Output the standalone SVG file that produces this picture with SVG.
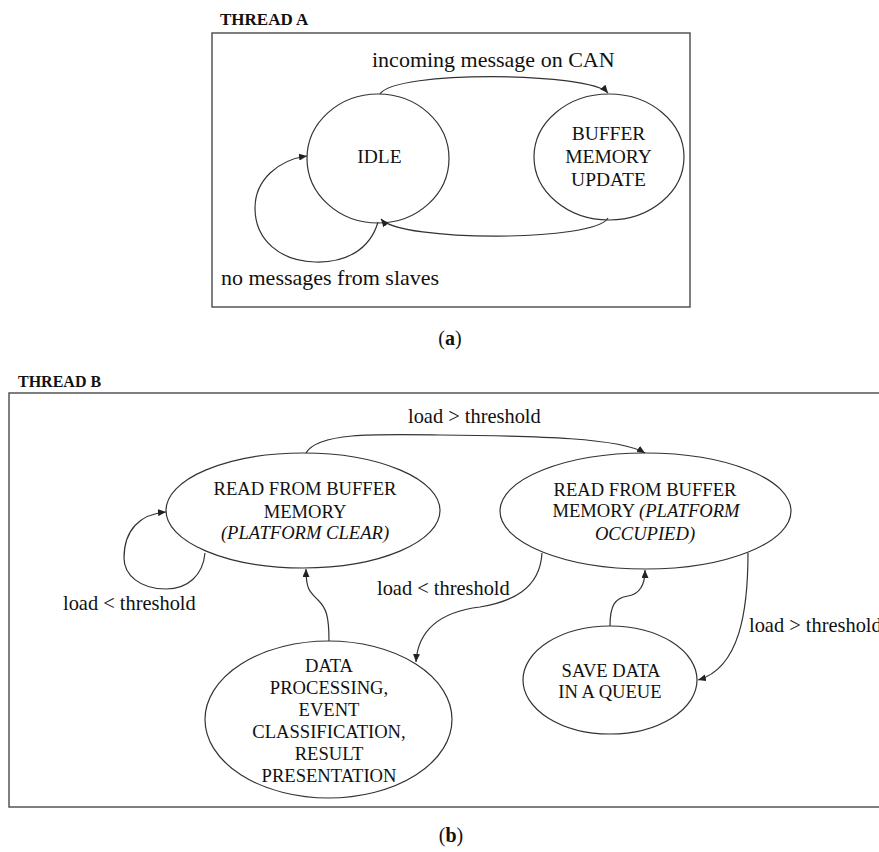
<svg xmlns="http://www.w3.org/2000/svg" width="879" height="852" viewBox="0 0 879 852">
<style>
text{font-family:"Liberation Serif","Times New Roman",serif;fill:#111}
.title{font-weight:bold;font-size:16px}
.na{font-size:19.5px;text-anchor:middle}
.nb{font-size:18.6px;text-anchor:middle}
.la{font-size:22px}
.lb{font-size:20.4px}
.cap{font-size:20px;text-anchor:middle}
.frame{fill:none;stroke:#555;stroke-width:1.5}
.node{fill:#fff;stroke:#333;stroke-width:1.2}
.edge{fill:none;stroke:#333;stroke-width:1.2;marker-end:url(#arr)}
</style>
<defs>
<marker id="arr" markerUnits="userSpaceOnUse" markerWidth="9" markerHeight="7" refX="8" refY="3.5" orient="auto">
<path d="M0,0 L8,3.5 L0,7 Z" fill="#222"/>
</marker>
</defs>
<rect width="879" height="852" fill="#fff"/>

<g id="threadA">
<text class="title" x="220" y="25" style="font-size:17px">THREAD A</text>
<rect class="frame" x="212" y="33" width="478" height="274"/>
</g>

<g id="idle">
<ellipse class="node" cx="378" cy="158.5" rx="71" ry="64.5"/>
<text class="na" x="379.5" y="163">IDLE</text>
</g>
<g id="buffer-update">
<ellipse class="node" cx="609" cy="157" rx="75" ry="63"/>
<text class="na" x="608.5" y="140">BUFFER</text>
<text class="na" x="608.5" y="163">MEMORY</text>
<text class="na" x="608.5" y="186">UPDATE</text>
</g>

<g id="threadB">
<text class="title" x="18" y="387">THREAD B</text>
<rect class="frame" x="9" y="393" width="900" height="414"/>
</g>

<g id="read-clear">
<ellipse class="node" cx="303" cy="510.5" rx="137" ry="57.5"/>
<text class="nb" x="305" y="495">READ FROM BUFFER</text>
<text class="nb" x="305" y="518">MEMORY</text>
<text class="nb" x="305" y="539" font-style="italic">(PLATFORM CLEAR)</text>
</g>
<g id="read-occupied">
<ellipse class="node" cx="645.5" cy="511" rx="145.5" ry="58"/>
<text class="nb" x="645" y="496">READ FROM BUFFER</text>
<text class="nb" x="646" y="517">MEMORY <tspan font-style="italic">(PLATFORM</tspan></text>
<text class="nb" x="645" y="540" font-style="italic">OCCUPIED)</text>
</g>
<g id="data-processing">
<ellipse class="node" cx="328.5" cy="719.5" rx="123.5" ry="78.5"/>
<text class="nb" x="329" y="672">DATA</text>
<text class="nb" x="329" y="694">PROCESSING,</text>
<text class="nb" x="329" y="716">EVENT</text>
<text class="nb" x="329" y="738">CLASSIFICATION,</text>
<text class="nb" x="329" y="760">RESULT</text>
<text class="nb" x="329" y="782">PRESENTATION</text>
</g>
<g id="save-queue">
<ellipse class="node" cx="610" cy="680" rx="87" ry="54"/>
<text class="nb" x="611" y="677">SAVE DATA</text>
<text class="nb" x="610" y="698">IN A QUEUE</text>
</g>

<g id="connectors">
<path class="edge" d="M380,94 C395,70 590,72 608,93"/>
<path class="edge" d="M608,218 C595,242 400,242 381,219"/>
<path class="edge" d="M378,222 C370,250 345,263 315,262 C280,261 255,240 255,208 C255,180 278,160 307,156"/>
<path class="edge" d="M306,453 C318,432 380,434 440,435 C540,436 620,438 645,453"/>
<path class="edge" d="M205,553 C203,575 188,589 166,589 C140,589 124,575 124,558 C124,530 140,514 166,512"/>
<path class="edge" d="M329,641 C329,615 326,608 318,600 C310,592 306,590 306,569"/>
<path class="edge" d="M542,553 C540,590 510,602 480,607 C440,612 418,630 416,662"/>
<path class="edge" d="M610,626 C610,605 615,598 628,596 C640,594 645,585 645,570"/>
<path class="edge" d="M748,553 C748,610 740,668 698,680"/>
</g>

<g id="labels">
<text class="la" x="372" y="67">incoming message on CAN</text>
<text class="la" x="221" y="285">no messages from slaves</text>
<text class="lb" x="408" y="423">load &gt; threshold</text>
<text class="lb" x="63" y="610">load &lt; threshold</text>
<text class="lb" x="377" y="595">load &lt; threshold</text>
<text class="lb" x="749" y="632">load &gt; threshold</text>
<text class="cap" x="450" y="345">(<tspan font-weight="bold">a</tspan>)</text>
<text class="cap" x="451" y="842">(<tspan font-weight="bold">b</tspan>)</text>
</g>
</svg>
